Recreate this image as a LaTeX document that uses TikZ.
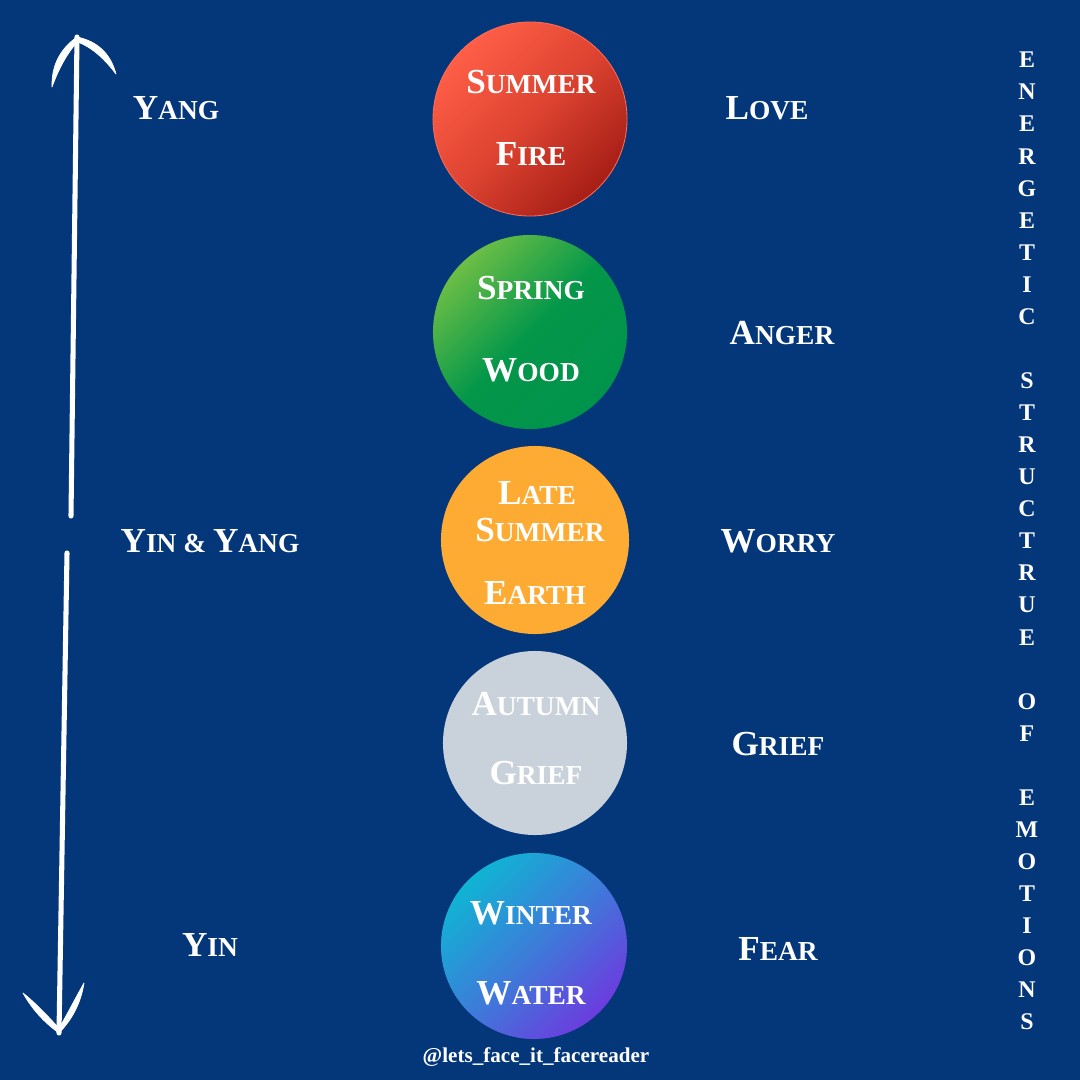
\documentclass[tikz,border=0pt]{standalone}
\usepackage{fontspec}
\setmainfont{Liberation Serif}
\definecolor{bg}{HTML}{04367A}
\definecolor{redA}{HTML}{FF5E47}
\definecolor{redB}{HTML}{DD4330}
\definecolor{redC}{HTML}{A61E16}
\definecolor{redEdge}{HTML}{FF6B52}
\definecolor{grnA}{HTML}{6CBE45}
\definecolor{grnB}{HTML}{04974A}
\definecolor{grnC}{HTML}{00934B}
\definecolor{orng}{HTML}{FEAB33}
\definecolor{gry}{HTML}{C9D1DA}
\definecolor{bluA}{HTML}{10B4D4}
\definecolor{bluB}{HTML}{3C7DD9}
\definecolor{bluC}{HTML}{6C3CDF}
\newcommand\bigsc[1]{{\fontsize{25}{25}\selectfont #1}}
\newcommand\smsc[1]{{\fontsize{19.5}{19.5}\selectfont #1}}
\tikzset{
  lbl/.style={text=white, font=\bfseries, inner sep=0pt},
  disc/.style={circle, inner sep=0pt, draw=none},
  barb/.style={fill=white, draw=white, line width=0.5pt, line join=round},
  shaft/.style={draw=white, line width=3.6pt, line cap=round},
  vlet/.style={text=white, font=\bfseries\fontsize{17}{17}\selectfont, inner sep=0pt},
  foot/.style={text=white, font=\bfseries\fontsize{15}{15}\selectfont, inner sep=0pt}
}
\begin{document}
\begin{tikzpicture}[x=0.025cm, y=-0.025cm]
\fill[bg] (0,0) rectangle (1080,1080);
\useasboundingbox (0,0) rectangle (1080,1080);

% up arrow
\coordinate (upBase) at (71,516);
\coordinate (upTip) at (77,37);
\coordinate (upL) at (52,87);
\coordinate (upR) at (116,74);
\draw[shaft] (upBase) -- (upTip);
\fill[barb] (upTip) .. controls (59.8,49.2) and (51.4,65.8) .. (upL)
   .. controls (58.5,69.4) and (66.9,52.8) .. ([xshift=0.05cm,yshift=-0.08cm]upTip) -- cycle;
\fill[barb] (upTip) .. controls (97.6,41.3) and (110.6,53.7) .. (upR)
   .. controls (105.1,59.5) and (92.1,47.1) .. ([yshift=-0.12cm]upTip) -- cycle;

% down arrow
\coordinate (dnBase) at (67,553);
\coordinate (dnTip) at (59,1033);
\coordinate (dnL) at (23,993);
\coordinate (dnR) at (84,983);
\draw[shaft] (dnBase) -- (dnTip);
\fill[barb] (dnTip) .. controls (44,1022.4) and (32,1009) .. (dnL)
   .. controls (37.2,1004.3) and (49.2,1017.7) .. ([yshift=0.12cm]dnTip) -- cycle;
\fill[barb] (dnTip) .. controls (72.6,1019) and (81,1002.4) .. (dnR)
   .. controls (74.8,999.2) and (66.4,1015.9) .. ([yshift=0.12cm]dnTip) -- cycle;

% circles
\node[disc, minimum size=4.85cm, top color=redA, bottom color=redC, middle color=redB, shading angle=45, draw=redEdge, line width=0.6pt] (c1) at (530,119) {};
\node[disc, minimum size=4.85cm, top color=grnA, bottom color=grnC, middle color=grnB, shading angle=45] (c2) at (530,332) {};
\node[disc, minimum size=4.7cm, fill=orng] (c3) at (535,540) {};
\node[disc, minimum size=4.6cm, fill=gry] (c4) at (535,743) {};
\node[disc, minimum size=4.65cm, top color=bluA, bottom color=bluC, middle color=bluB, shading angle=45] (c5) at (534,946) {};

% circle texts
\node[lbl] (t1a) at (531,82) {\bigsc{S}\smsc{UMMER}};
\node[lbl] (t1b) at (531,154) {\bigsc{F}\smsc{IRE}};
\node[lbl] (t2a) at (531,288) {\bigsc{S}\smsc{PRING}};
\node[lbl] (t2b) at (531,370) {\bigsc{W}\smsc{OOD}};
\node[lbl] (t3a) at (537,493) {\bigsc{L}\smsc{ATE}};
\node[lbl] (t3b) at (540,530) {\bigsc{S}\smsc{UMMER}};
\node[lbl] (t3c) at (535,593) {\bigsc{E}\smsc{ARTH}};
\node[lbl] (t4a) at (536,704) {\bigsc{A}\smsc{UTUMN}};
\node[lbl] (t4b) at (536,773) {\bigsc{G}\smsc{RIEF}};
\node[lbl] (t5a) at (531,913) {\bigsc{W}\smsc{INTER}};
\node[lbl] (t5b) at (531,993) {\bigsc{W}\smsc{ATER}};

% left labels
\node[lbl] (yang) at (176,108) {\bigsc{Y}\smsc{ANG}};
\node[lbl] (yinyang) at (210,541) {\bigsc{Y}\smsc{IN \& }\bigsc{Y}\smsc{ANG}};
\node[lbl] (yin) at (210,945) {\bigsc{Y}\smsc{IN}};

% right labels
\node[lbl] (love) at (767,108) {\bigsc{L}\smsc{OVE}};
\node[lbl] (anger) at (782,333) {\bigsc{A}\smsc{NGER}};
\node[lbl] (worry) at (778,541) {\bigsc{W}\smsc{ORRY}};
\node[lbl] (grief) at (778,744) {\bigsc{G}\smsc{RIEF}};
\node[lbl] (fear) at (778,949) {\bigsc{F}\smsc{EAR}};

% vertical title
\foreach \k/\ch in {0/E,1/N,2/E,3/R,4/G,5/E,6/T,7/I,8/C,10/S,11/T,12/R,13/U,14/C,15/T,16/R,17/U,18/E,20/O,21/F,23/E,24/M,25/O,26/T,27/I,28/O,29/N,30/S}
  \node[vlet] (v\k) at (1027,60+32.07*\k) {\ch};

% footer
\node[foot] (handle) at (536,1057) {@lets\_face\_it\_facereader};
\end{tikzpicture}
\end{document}
